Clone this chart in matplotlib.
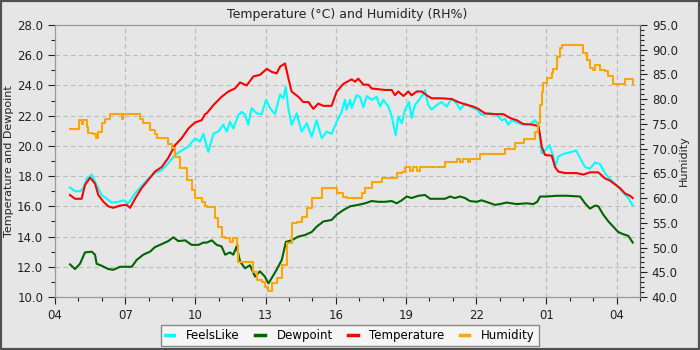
import numpy as np
import pandas as pd
import matplotlib
matplotlib.use('Agg')
import matplotlib.pyplot as plt
import matplotlib.dates as mdates
from matplotlib.ticker import MultipleLocator, FormatStrFormatter
from matplotlib.patches import Rectangle

# hours after 04:00
temp_h = [0.64, 0.855, 1.14, 1.28, 1.50, 1.71, 1.85, 2.07, 2.28, 2.49, 2.78, 3.06, 3.21, 3.42, 3.70, 3.99,
          4.27, 4.56, 4.84, 5.13, 5.41, 5.70, 5.98, 6.27, 6.41, 6.48, 6.77, 7.12, 7.41, 7.69, 7.91, 8.19,
          8.48, 8.76, 9.05, 9.26, 9.47, 9.62, 9.83, 9.97, 10.11, 10.40, 10.61, 10.83, 11.04, 11.25, 11.47,
          11.82, 12.04, 12.32, 12.61, 12.68, 12.82, 12.96, 13.18, 13.39, 13.53, 13.82, 14.10, 14.39, 14.53,
          14.67, 14.89, 15.10, 15.24, 15.46, 15.67, 15.88, 16.10, 16.52, 16.95, 17.24, 17.52, 17.88, 18.09,
          18.38, 18.80, 19.16, 19.44, 19.73, 20.01, 20.44, 20.66, 20.73, 20.80, 20.94, 21.23, 21.37, 21.51,
          21.80, 22.29, 22.58, 22.86, 23.22, 23.50, 23.72, 23.93, 24.15, 24.36, 24.57, 24.69]
temp = [16.75, 16.5, 16.5, 17.4, 17.9, 17.5, 16.75, 16.3, 16.0, 15.9, 16.05, 16.1, 15.9, 16.5, 17.2, 17.75,
        18.3, 18.6, 19.2, 20.05, 20.5, 21.15, 21.55, 21.7, 22.1, 22.15, 22.7, 23.25, 23.6, 23.8, 24.2, 24.0,
        24.6, 24.7, 25.1, 24.9, 24.8, 25.25, 25.45, 24.5, 23.6, 23.25, 22.9, 22.9, 22.45, 22.8, 22.65,
        22.65, 23.6, 24.1, 24.35, 24.4, 24.25, 24.45, 24.05, 24.05, 23.8, 23.75, 23.7, 23.7, 23.35,
        23.6, 23.3, 23.6, 23.35, 23.6, 23.6, 23.35, 23.15, 23.15, 23.1, 22.9, 22.75, 22.6, 22.45,
        22.15, 22.1, 22.1, 21.85, 21.7, 21.45, 21.4, 21.3, 20.7, 19.95, 19.4, 19.35, 18.6, 18.3,
        18.2, 18.2, 18.1, 18.25, 18.25, 17.85, 17.7, 17.45, 17.2, 16.85, 16.7, 16.55]

feels_h = [0.64, 0.855, 1.068, 1.21, 1.35, 1.57, 1.78, 1.99, 2.21, 2.42, 2.71, 2.92, 3.13, 3.42, 3.70, 3.99,
           4.27, 4.56, 4.84, 5.13, 5.41, 5.70, 5.98, 6.20, 6.34, 6.55, 6.77, 6.98, 7.19, 7.34, 7.48, 7.62,
           7.84, 7.98, 8.12, 8.26, 8.40, 8.62, 8.83, 9.02, 9.19, 9.40, 9.62, 9.76, 9.86, 9.97, 10.11, 10.33,
           10.54, 10.76, 10.97, 11.18, 11.40, 11.61, 11.82, 12.04, 12.25, 12.39, 12.46, 12.61, 12.68, 12.89,
           13.03, 13.18, 13.32, 13.53, 13.75, 13.89, 14.03, 14.25, 14.39, 14.56, 14.67, 14.82, 14.96, 15.13,
           15.24, 15.38, 15.56, 15.70, 15.81, 15.95, 16.10, 16.31, 16.52, 16.74, 16.95, 17.17, 17.31, 17.52,
           17.81, 18.02, 18.23, 18.52, 18.80, 18.87, 19.09, 19.23, 19.37, 19.52, 19.73, 20.01, 20.30, 20.51,
           20.66, 20.73, 20.80, 20.94, 21.13, 21.30, 21.37, 21.51, 21.80, 22.08, 22.27, 22.44, 22.65, 22.86,
           23.08, 23.29, 23.50, 23.72, 24.00, 24.29, 24.50, 24.69]
feels = [17.24, 17.0, 17.0, 17.2, 17.8, 18.1, 17.4, 16.75, 16.5, 16.25, 16.3, 16.4, 16.2, 16.85, 17.35, 17.85,
         18.2, 18.4, 18.85, 19.4, 19.7, 19.95, 20.5, 20.3, 20.8, 19.6, 20.8, 20.95, 21.4, 20.95, 21.6, 21.15,
         22.05, 22.25, 22.05, 21.4, 22.5, 22.15, 22.1, 23.05, 22.5, 22.1, 23.4, 23.15, 23.9, 22.5, 21.4, 22.15,
         20.95, 21.5, 20.6, 21.7, 20.5, 20.95, 20.8, 21.6, 22.25, 23.05, 22.4, 23.05, 22.5, 23.35,
         23.25, 22.55, 23.3, 23.05, 23.25, 22.6, 23.05, 22.6, 21.95, 20.7, 21.95, 21.5, 22.4, 22.9,
         21.85, 22.7, 23.05, 23.35, 23.7, 22.7, 22.4, 22.7, 22.9, 22.6, 23.15, 22.8, 22.4, 22.8,
         22.55, 22.4, 22.05, 22.15, 22.1, 22.05, 21.7, 21.8, 21.4, 21.7, 21.55, 21.4, 21.45, 21.7,
         21.4, 20.4, 19.5, 19.7, 20.05, 19.3, 18.6, 19.3, 19.5, 19.6, 19.7, 19.2, 18.6, 18.5,
         18.9, 18.8, 18.2, 17.8, 17.4, 16.9, 16.55, 16.05]

dew_h = [0.64, 0.855, 1.068, 1.28, 1.57, 1.71, 1.78, 1.99, 2.28, 2.49, 2.78, 3.06, 3.28, 3.49, 3.77, 4.06,
         4.27, 4.56, 4.84, 5.06, 5.27, 5.56, 5.84, 6.13, 6.34, 6.48, 6.70, 6.91, 7.12, 7.27, 7.48, 7.62,
         7.76, 7.91, 8.12, 8.33, 8.55, 8.76, 8.97, 9.12, 9.26, 9.47, 9.69, 9.87, 10.11, 10.40, 10.68, 10.97,
         11.18, 11.47, 11.82, 12.04, 12.32, 12.61, 12.96, 13.25, 13.53, 13.82, 14.10, 14.39, 14.60, 14.82,
         15.03, 15.24, 15.53, 15.81, 16.03, 16.38, 16.67, 16.88, 17.09, 17.31, 17.52, 17.73, 18.02, 18.23,
         18.52, 18.80, 19.02, 19.30, 19.73, 20.16, 20.44, 20.61, 20.73, 21.01, 21.44, 21.87, 22.44, 22.65,
         22.86, 23.08, 23.22, 23.43, 23.65, 23.86, 24.07, 24.29, 24.50, 24.69]
dew = [12.16, 11.85, 12.2, 12.95, 13.0, 12.8, 12.2, 12.07, 11.85, 11.8, 12.0, 12.0, 12.0, 12.45, 12.8, 13.0,
       13.3, 13.5, 13.7, 13.95, 13.7, 13.75, 13.45, 13.45, 13.6, 13.6, 13.75, 13.45, 13.35, 12.8, 12.95, 12.8,
       13.35, 12.35, 11.9, 12.1, 11.35, 11.7, 11.35, 10.9, 11.25, 11.8, 12.45, 13.65, 13.75, 14.0, 14.1, 14.3,
       14.65, 15.0, 15.1, 15.45, 15.75, 16.0, 16.1, 16.2, 16.35, 16.3, 16.3, 16.35, 16.2, 16.4,
       16.65, 16.55, 16.7, 16.75, 16.5, 16.5, 16.5, 16.65, 16.55, 16.65, 16.55, 16.35, 16.3, 16.4,
       16.25, 16.1, 16.15, 16.25, 16.15, 16.2, 16.15, 16.3, 16.65, 16.65, 16.7, 16.7, 16.65, 16.2,
       15.85, 16.05, 16.0, 15.45, 15.0, 14.65, 14.3, 14.15, 14.05, 13.6]

hum_h = [0.64, 1.03, 1.14, 1.18, 1.35, 1.42, 1.64, 1.74, 1.85, 1.99, 2.14, 2.35, 2.85, 2.90, 3.63, 3.77,
         4.06, 4.27, 4.34, 4.84, 4.99, 5.13, 5.34, 5.63, 5.84, 5.98, 6.27, 6.41, 6.48, 6.84, 6.98, 7.12,
         7.27, 7.48, 7.62, 7.76, 7.84, 8.33, 8.48, 8.62, 8.83, 8.97, 9.12, 9.26, 9.47, 9.69, 9.90, 10.11,
         10.33, 10.54, 10.76, 10.97, 11.25, 11.40, 11.89, 12.04, 12.32, 12.46, 12.61, 13.11, 13.25, 13.53,
         13.96, 14.60, 14.82, 14.96, 15.17, 15.31, 15.46, 15.60, 16.67, 17.17, 17.31, 17.45, 17.66, 17.73,
         18.16, 19.23, 19.66, 20.04, 20.51, 20.66, 20.73, 20.80, 20.87, 21.01, 21.23, 21.30, 21.44, 21.58,
         21.65, 22.44, 22.58, 22.72, 22.86, 23.01, 23.08, 23.29, 23.50, 23.65, 23.86, 24.36, 24.57, 24.69]
hum = [74.0, 75.8, 74.9, 75.8, 74.4, 73.1, 72.9, 72.1, 73.4, 75.1, 75.9, 77.1, 76.0, 77.1, 75.9, 75.1,
       73.8, 72.9, 72.1, 71.0, 70.1, 68.4, 66.0, 63.7, 61.6, 60.1, 59.3, 58.3, 58.1, 55.9, 54.2, 52.1,
       51.9, 51.2, 51.9, 50.5, 47.1, 47.1, 45.1, 43.4, 43.1, 42.1, 41.2, 42.8, 43.8, 46.5, 50.9, 54.9,
       55.1, 56.2, 57.9, 60.1, 60.1, 62.1, 62.1, 61.0, 60.3, 60.0, 60.0, 61.0, 62.0, 63.2,
       64.1, 65.0, 65.3, 66.2, 65.5, 66.2, 65.5, 66.2, 67.2, 67.9, 67.2, 67.9, 67.2, 67.9,
       68.9, 69.9, 71.1, 72.0, 73.4, 75.1, 78.8, 81.5, 83.2, 84.2, 85.2, 86.2, 88.6, 90.3,
       91.0, 91.0, 89.3, 87.9, 86.4, 85.9, 86.9, 85.9, 85.6, 84.6, 83.0, 84.1, 84.1, 83.0]

start = pd.Timestamp('2023-06-01 04:00')
def to_time(h):
    return start + pd.to_timedelta(np.array(h), unit='h')

bg = '#e6e6e6'
fig = plt.figure(figsize=(7, 3.5), dpi=100, facecolor=bg)
ax = fig.add_axes([55/700, 1-297/350, 585/700, 272/350], facecolor=bg)
ax2 = ax.twinx()

l1, = ax.plot(to_time(feels_h), feels, color='cyan', lw=1.5, label='FeelsLike')
l2, = ax.plot(to_time(dew_h), dew, color='#006400', lw=1.5, label='Dewpoint')
l3, = ax.plot(to_time(temp_h), temp, color='red', lw=1.5, label='Temperature')
l4, = ax2.plot(to_time(hum_h), hum, color='orange', lw=1.5, drawstyle='steps-post', label='Humidity')

ax.set_xlim(start, start + pd.Timedelta(hours=25))
ax.set_ylim(10, 28)
ax2.set_ylim(40, 95)
ax.xaxis.set_major_locator(mdates.HourLocator(byhour=[1, 4, 7, 10, 13, 16, 19, 22]))
ax.xaxis.set_minor_locator(mdates.HourLocator())
ax.xaxis.set_major_formatter(mdates.DateFormatter('%H'))
ax.yaxis.set_major_locator(MultipleLocator(2))
ax.yaxis.set_minor_locator(MultipleLocator(1))
ax.yaxis.set_major_formatter(FormatStrFormatter('%.1f'))
ax2.yaxis.set_major_locator(MultipleLocator(5))
ax2.yaxis.set_minor_locator(MultipleLocator(1))
ax2.yaxis.set_major_formatter(FormatStrFormatter('%.1f'))

ax.grid(True, which='major', color='#bbbbbb', ls=(0, (4, 3)), lw=0.8)
for a in (ax, ax2):
    a.tick_params(which='major', length=5, width=0.8, labelsize=8.5, colors='#222222')
    a.tick_params(which='minor', length=3, width=0.8, colors='#222222')
    for s in a.spines.values():
        s.set_color('#999999')
ax2.spines['right'].set_color('#555555')

ax.set_title('Temperature (°C) and Humidity (RH%)', fontsize=9, pad=5, color='#222222')
ax.set_ylabel('Temperature and Dewpoint', fontsize=8, labelpad=2, color='#222222')
ax2.set_ylabel('Humidity', fontsize=8, labelpad=1, color='#222222')

leg = fig.legend(handles=[l1, l2, l3, l4], loc='lower center', bbox_to_anchor=(0.5, -0.006), ncol=4,
                 fontsize=8.5, frameon=True, fancybox=False, handlelength=0.8, columnspacing=1.3,
                 borderpad=0.35, handletextpad=1.0)
leg.get_frame().set_facecolor('#f5f5f5')
leg.get_frame().set_edgecolor('#888888')
leg.get_frame().set_alpha(1)
for h in leg.legend_handles:
    h.set_linewidth(2.5)

fig.patches.append(Rectangle((0, 0), 1, 1, transform=fig.transFigure, fill=False, lw=3, ec='#505050'))

fig.savefig('out.png', dpi=100, facecolor=bg)
